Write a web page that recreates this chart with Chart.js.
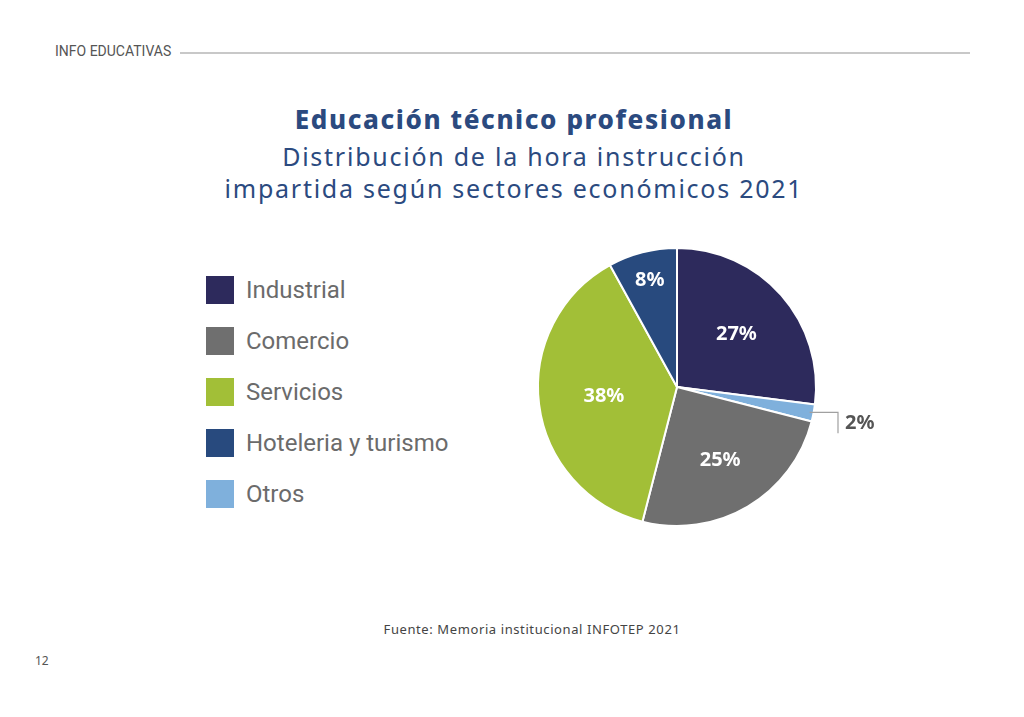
<!DOCTYPE html>
<html>
<head>
<meta charset="utf-8">
<script src="https://cdn.jsdelivr.net/npm/chart.js@4.4.0/dist/chart.umd.min.js"></script>
<style>
  body { margin: 0; background: #fff; width: 1024px; height: 717px; position: relative; overflow: hidden; font-family: "Noto Sans", sans-serif; }
  .hdr { position: absolute; left: 55px; top: 43px; font-size: 14px; color: #555; font-family: "Liberation Sans Narrow", "Roboto", sans-serif; }
  .hline { position: absolute; left: 180px; top: 52px; width: 790px; height: 2px; background: #c8c8c8; }
  .title { position: absolute; left: 0; width: 1028px; text-align: center; color: #2b4a7f; white-space: nowrap; }
  .t1 { top: 102px; font-size: 26px; line-height: 34px; font-weight: 800; letter-spacing: 1.6px; }
  .t2 { font-size: 25px; line-height: 27px; font-weight: 400; letter-spacing: 1.75px; }
  .s1 { top: 143px; }
  .s2 { top: 175px; }
  #legend { position: absolute; left: 206px; top: 276px; font-family: Roboto, sans-serif; }
  .item { height: 51px; display: flex; align-items: flex-start; }
  .box { width: 28px; height: 28px; margin-right: 12px; }
  .lab { font-size: 24px; color: #6b6b6b; line-height: 28px; }
  #wrap { position: absolute; left: 517px; top: 227px; width: 380px; height: 320px; }
  .src { position: absolute; left: 0; width: 1064px; text-align: center; top: 620px; font-size: 13px; letter-spacing: 0.6px; color: #444; }
  .pg { position: absolute; left: 35px; top: 652px; font-size: 12px; color: #555; }
</style>
</head>
<body>
<div class="hdr">INFO EDUCATIVAS</div>
<div class="hline"></div>
<div class="title t1">Educación técnico profesional</div>
<div class="title t2 s1">Distribución de la hora instrucción</div>
<div class="title t2 s2">impartida según sectores económicos 2021</div>
<div id="legend"></div>
<div id="wrap"><canvas id="pieChart" width="380" height="320"></canvas></div>
<div class="src">Fuente: Memoria institucional INFOTEP 2021</div>
<div class="pg">12</div>

<script>
// pie order (clockwise from the top)
var sectors = ['Industrial', 'Otros', 'Comercio', 'Servicios', 'Hoteleria y turismo'];
var shares = [27, 2, 25, 38, 8];
var sectorColors = ['#2d2a5c', '#7fb0dc', '#6f6f6f', '#a2bf37', '#284a7e'];
// legend order as in the report
var legendOrder = ['Industrial', 'Comercio', 'Servicios', 'Hoteleria y turismo', 'Otros'];

// build the legend
var legendEl = document.getElementById('legend');
legendOrder.forEach(function(name) {
    var i = sectors.indexOf(name);
    var row = document.createElement('div');
    row.className = 'item';
    row.innerHTML = '<div class="box" style="background:' + sectorColors[i] + '"></div><div class="lab">' + name + '</div>';
    legendEl.appendChild(row);
});

// label radius (fraction of outer radius) per slice; -1 means outside with leader line
var labelPos = [0.57, -1, 0.61, 0.53, 0.79];

var pctLabels = {
    id: 'pctLabels',
    afterDatasetsDraw: function(chart) {
        var ctx = chart.ctx;
        var meta = chart.getDatasetMeta(0);
        ctx.save();
        ctx.font = 'bold 20px "Noto Sans", sans-serif';
        ctx.textAlign = 'center';
        ctx.textBaseline = 'middle';
        meta.data.forEach(function(arc, i) {
            var mid = (arc.startAngle + arc.endAngle) / 2;
            var txt = shares[i] + '%';
            if (labelPos[i] < 0) {
                var r0 = arc.outerRadius - 4;
                var sx = arc.x + Math.cos(mid) * r0;
                var sy = arc.y + Math.sin(mid) * r0;
                var ex = arc.x + arc.outerRadius + 22;
                ctx.strokeStyle = '#a0a0a0';
                ctx.lineWidth = 1.2;
                ctx.beginPath();
                ctx.moveTo(sx, sy);
                ctx.lineTo(ex, sy);
                ctx.lineTo(ex, sy + 21);
                ctx.stroke();
                ctx.fillStyle = '#555';
                ctx.textAlign = 'left';
                ctx.fillText(txt, ex + 7, sy + 11);
                ctx.textAlign = 'center';
            } else {
                var r = arc.outerRadius * labelPos[i];
                ctx.fillStyle = '#fff';
                ctx.fillText(txt, arc.x + Math.cos(mid) * r, arc.y + Math.sin(mid) * r);
            }
        });
        ctx.restore();
    }
};

var ctx1 = document.getElementById('pieChart').getContext('2d');
var pieChart = new Chart(ctx1, {
    type: 'pie',
    data: {
        labels: sectors,
        datasets: [{
            data: shares,
            backgroundColor: sectorColors,
            borderColor: '#fff',
            borderWidth: 2
        }]
    },
    options: {
        responsive: false,
        animation: false,
        layout: { padding: { left: 20, right: 80, top: 20, bottom: 20 } },
        plugins: {
            legend: { display: false },
            tooltip: { enabled: false }
        }
    },
    plugins: [pctLabels]
});
</script>
</body>
</html>
